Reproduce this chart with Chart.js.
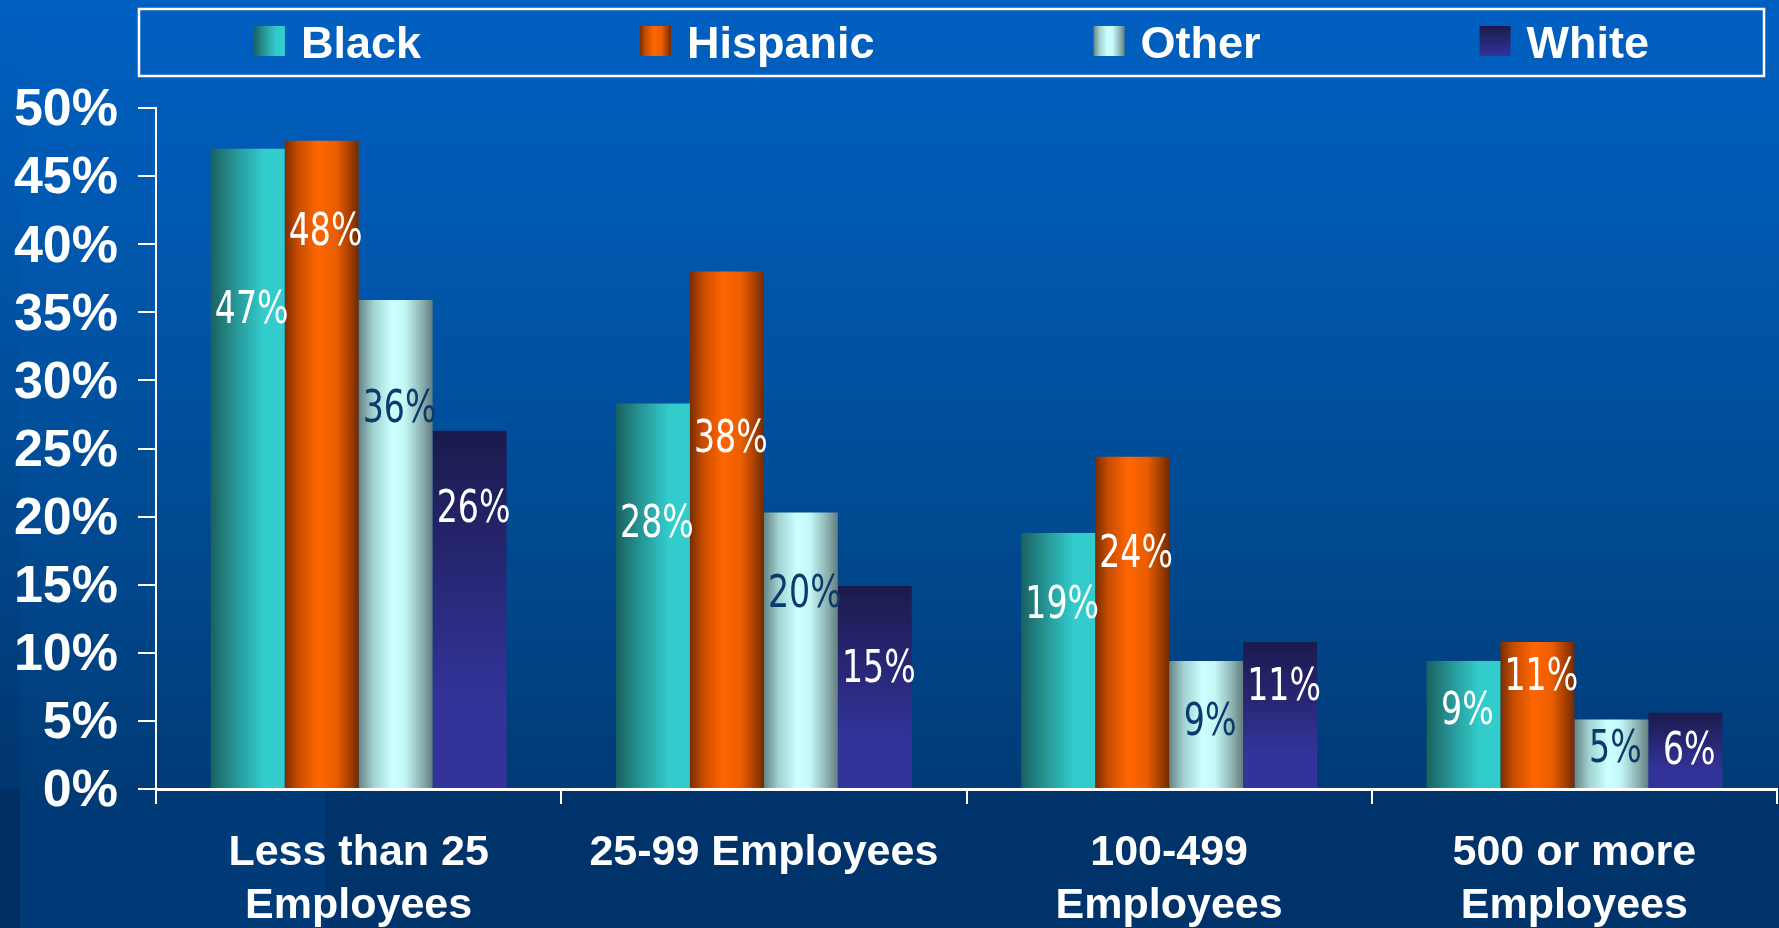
<!DOCTYPE html>
<html>
<head>
<meta charset="utf-8">
<script src="https://cdn.jsdelivr.net/npm/chart.js@4.4.1/dist/chart.umd.min.js"></script>
<style>
html, body { margin: 0; padding: 0; background: #00346b; overflow: hidden; }
#wrap { width: 1779px; height: 928px; position: relative; }
</style>
</head>
<body>
<div id="wrap"><canvas id="chart"></canvas></div>
<script>
// data (percent of workers)
var categories = [['Less than 25', 'Employees'], '25-99 Employees', ['100-499', 'Employees'], ['500 or more', 'Employees']]
var seriesNames = ['Black', 'Hispanic', 'Other', 'White']
var black = [47.0, 28.3, 18.8, 9.4]
var hispanic = [47.6, 38.0, 24.4, 10.8]
var other = [35.9, 20.3, 9.4, 5.1]
var white = [26.3, 14.9, 10.8, 5.6]
var yTickValues = [0, 5, 10, 15, 20, 25, 30, 35, 40, 45, 50]

// styling
var catPct = 0.73
var boldFont = "'Liberation Sans', Arial, sans-serif"
var narrowFont = "'DejaVu Sans Condensed', 'Liberation Sans Narrow', sans-serif"
var solid = { Black: '#2aa8a8', Hispanic: '#ff6600', Other: '#ccffff', White: '#333399' }
var stops = {
    Black: [[0, '#1a6161'], [0.35, '#279898'], [0.72, '#33cccc'], [1, '#33cccc']],
    Hispanic: [[0, '#782d00'], [0.18, '#c94c00'], [0.45, '#ff6600'], [0.7, '#ea5d00'], [0.88, '#a53f00'], [1, '#722b00']],
    Other: [[0, '#668383'], [0.2, '#a2d2d2'], [0.45, '#ccffff'], [0.62, '#c6f8f8'], [0.86, '#8cb0b0'], [1, '#637e7e']],
    White: [[0, '#1b1a4d'], [1, '#333399']]
}
var labelColors = ['#ffffff', '#ffffff', '#0b3a6c', '#ffffff']
// how far below each bar top its value label sits (px)
var labelDrop = [
    [162, 122, 73, 51],
    [93, 169, 99, 36],
    [110, 83, 62, 31],
    [80, 84, 46, 40]
]

function makeFill(ctx, name, x0, x1, y0, y1) {
    if (![x0, x1, y0, y1].every(isFinite) || x1 === x0 || y1 === y0) return solid[name]
    var g
    if (name === 'White') g = ctx.createLinearGradient(0, y0, 0, y1)
    else g = ctx.createLinearGradient(x0, 0, x1, 0)
    stops[name].forEach(function(s){ g.addColorStop(s[0], s[1]) })
    return g
}

function barColor(c) {
    var chart = c.chart
    var xs = chart.scales.x, ys = chart.scales.y
    var name = seriesNames[c.datasetIndex]
    if (c.type !== 'data' || !xs || !ys) return solid[name] || '#333399'
    var catW = (xs.right - xs.left) / categories.length
    var groupW = catW * catPct
    var barW = groupW / seriesNames.length
    var x0 = xs.getPixelForValue(c.dataIndex) - groupW / 2 + c.datasetIndex * barW
    var top = ys.getPixelForValue(c.raw)
    var base = ys.getPixelForValue(0)
    return makeFill(chart.ctx, name, x0, x0 + barW, top, top + (base - top) * 0.75)
}

var background = {
    id: 'background',
    beforeDraw: function(chart) {
        var ctx = chart.ctx, w = chart.width, h = chart.height
        var axisY = chart.chartArea.bottom
        ctx.save()
        var g = ctx.createLinearGradient(0, 0, 0, axisY)
        g.addColorStop(0, '#0060c2')
        g.addColorStop(0.35, '#0056aa')
        g.addColorStop(0.65, '#004b93')
        g.addColorStop(1, '#003b76')
        ctx.fillStyle = g
        ctx.fillRect(0, 0, w, axisY)
        ctx.fillStyle = '#00336a'
        ctx.fillRect(0, axisY, w, h - axisY)
        ctx.fillStyle = '#003a77'
        ctx.fillRect(20, axisY, 305, h - axisY)
        var s = ctx.createLinearGradient(0, 0, 0, h)
        s.addColorStop(0, 'rgba(0,20,60,0)')
        s.addColorStop(0.5, 'rgba(0,20,60,0.05)')
        s.addColorStop(1, 'rgba(0,20,60,0.18)')
        ctx.fillStyle = s
        ctx.fillRect(0, 0, 20, h)
        ctx.restore()
    }
}

var legendBox = {
    id: 'legendBox',
    afterDraw: function(chart) {
        var ctx = chart.ctx
        var left = 139, right = 1764, top = 9, bottom = 76
        ctx.save()
        ctx.strokeStyle = '#ffffff'
        ctx.lineWidth = 2.5
        ctx.strokeRect(left, top, right - left, bottom - top)

        ctx.font = 'bold 45px ' + boldFont
        var box = 31, gapText = 16, gap = 219
        var widths = seriesNames.map(function(n){ return ctx.measureText(n).width })
        var total = 0
        widths.forEach(function(w){ total += box + gapText + w })
        total += gap * (seriesNames.length - 1)
        var x = (left + right) / 2 - total / 2
        ctx.textBaseline = 'alphabetic'
        ctx.textAlign = 'left'
        seriesNames.forEach(function(n, i){
            ctx.fillStyle = makeFill(ctx, n, x, x + box, 26, 56)
            ctx.fillRect(x, 26, box, 30)
            ctx.fillStyle = '#ffffff'
            ctx.fillText(n, x + box + gapText, 58)
            x += box + gapText + widths[i] + gap
        })
        ctx.restore()
    }
}

var valueLabels = {
    id: 'valueLabels',
    afterDatasetsDraw: function(chart) {
        var ctx = chart.ctx
        var squeeze = 0.82
        chart.data.datasets.forEach(function(ds, d){
            chart.getDatasetMeta(d).data.forEach(function(bar, i){
                ctx.save()
                ctx.font = '45px ' + narrowFont
                ctx.textAlign = 'center'
                ctx.textBaseline = 'middle'
                ctx.fillStyle = labelColors[d]
                ctx.translate(bar.x + 4, bar.y + labelDrop[d][i])
                ctx.scale(squeeze, 1)
                ctx.fillText(Math.round(ds.data[i]) + '%', 0, 0)
                ctx.restore()
            })
        })
    }
}

var seriesData = [black, hispanic, other, white]

var chart = new Chart(document.getElementById('chart').getContext('2d'), {
    type: 'bar',
    data: {
        labels: categories,
        datasets: seriesNames.map(function(n, i){
            return {
                label: n,
                data: seriesData[i],
                backgroundColor: barColor,
                borderWidth: 0,
                categoryPercentage: catPct,
                barPercentage: 1
            }
        })
    },
    options: {
        responsive: true,
        maintainAspectRatio: false,
        animation: false,
        events: [],
        layout: { padding: { top: 108, right: 2, left: 0, bottom: 0 } },
        plugins: {
            legend: { display: false },
            tooltip: { enabled: false }
        },
        scales: {
            x: {
                afterFit: function(s){ s.height = 139 },
                border: { color: '#ffffff', width: 3 },
                grid: { drawOnChartArea: false, color: '#ffffff', lineWidth: 2, tickLength: 15 },
                ticks: {
                    color: '#ffffff',
                    padding: 23,
                    maxRotation: 0,
                    autoSkip: false,
                    font: { family: boldFont, size: 43, weight: 'bold', lineHeight: 1.23 }
                }
            },
            y: {
                min: 0,
                max: 50,
                afterFit: function(s){ s.width = 156 },
                afterBuildTicks: function(s){ s.ticks = yTickValues.map(function(v){ return { value: v } }) },
                border: { color: '#ffffff', width: 2 },
                grid: { drawOnChartArea: false, color: '#ffffff', lineWidth: 2, tickLength: 18 },
                ticks: {
                    color: '#ffffff',
                    padding: 20,
                    labelOffset: 3,
                    font: { family: boldFont, size: 52, weight: 'bold' },
                    callback: function(v){ return v + '%' }
                }
            }
        }
    },
    plugins: [background, legendBox, valueLabels]
})
</script>
</body>
</html>
